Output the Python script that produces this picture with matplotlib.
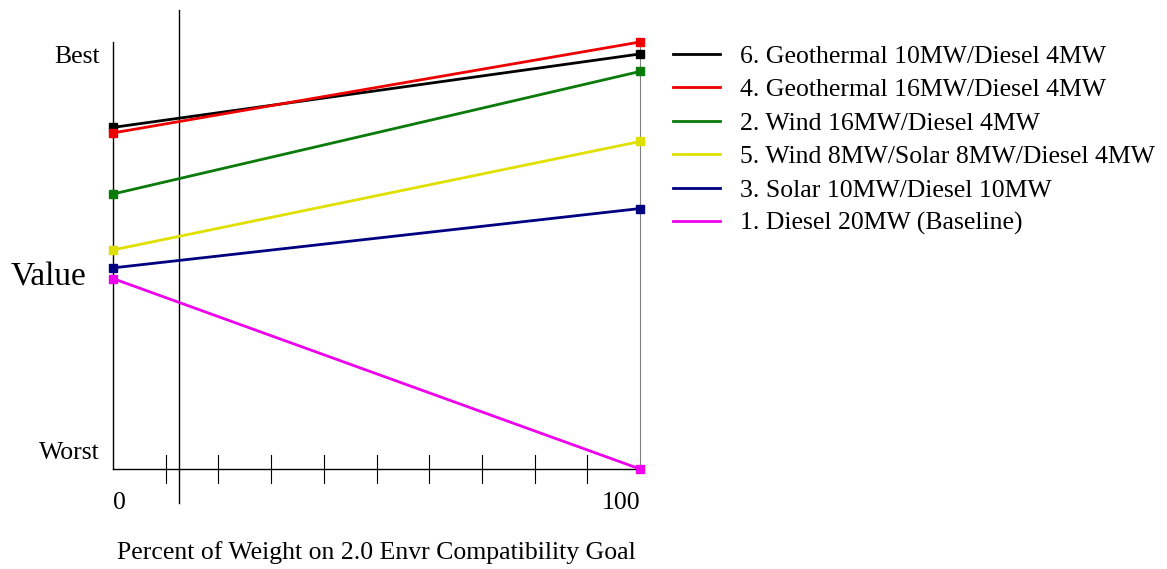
import numpy as np
import matplotlib
matplotlib.use("Agg")
import matplotlib.pyplot as plt

plt.rcParams['font.family'] = ['Liberation Serif', 'DejaVu Serif']

# weight on goal (percent) and value scores at both ends (0 = Worst, 100 = Best)
weights = [0, 100]
labels = ['6. Geothermal 10MW/Diesel 4MW',
          '4. Geothermal 16MW/Diesel 4MW',
          '2. Wind 16MW/Diesel 4MW',
          '5. Wind 8MW/Solar 8MW/Diesel 4MW',
          '3. Solar 10MW/Diesel 10MW',
          '1. Diesel 20MW (Baseline)']
geo10 = [80.0, 97.2]
geo16 = [78.7, 100.0]
wind16 = [64.4, 93.1]
wind_solar = [51.3, 76.7]
solar10 = [47.1, 61.0]
diesel20 = [44.6, 0.0]
colors = ['black', '#ee0000', '#0a7a0a', '#e0e000', '#000080', '#ee00ee']
current_weight = 12.5

series = [geo10, geo16, wind16, wind_solar, solar10, diesel20]

fig = plt.figure(figsize=(11.67, 5.69), dpi=100)
ax = fig.add_axes([113/1167, 1-469/569, 527/1167, 427/569])

for vals, lab, c in zip(series, labels, colors):
    ax.plot(weights, vals, color=c, lw=2, label=lab, marker='s', ms=6,
            clip_on=False, zorder=3)

ax.set_xlim(0, 100)
ax.set_ylim(0, 100)

ax.spines['top'].set_visible(False)
ax.spines['right'].set_color('gray')
ax.spines['left'].set_linewidth(1)
ax.spines['bottom'].set_linewidth(1)

# ticks crossing the x axis
ax.set_xticks([])
ax.set_yticks([])
for t in range(10, 100, 10):
    ax.plot([t, t], [-3.3, 3.3], color='black', lw=0.8, clip_on=False)

# current weight line
ax.plot([current_weight, current_weight], [-8, 107.5], color='black', lw=1,
        clip_on=False)

fs = 18.5
ax.text(0, -5.3, '0', ha='left', va='top', fontsize=fs)
ax.text(100, -5.3, '100', ha='right', va='top', fontsize=fs)
ax.text(-2.5, 96.5, 'Best', ha='right', va='center', fontsize=fs)
ax.text(-2.5, 3.7, 'Worst', ha='right', va='center', fontsize=fs)
ax.text(-12.2, 45.0, 'Value', ha='center', va='center', fontsize=24)
ax.text(50, -19.5, 'Percent of Weight on 2.0 Envr Compatibility Goal',
        ha='center', va='center', fontsize=fs)

ax.legend(loc='upper left', bbox_to_anchor=(1.043, 1.017), frameon=False,
          fontsize=fs, handlelength=1.83, handletextpad=0.78, labelspacing=0.405,
          borderaxespad=0)
for h in ax.get_legend().legend_handles:
    h.set_marker('')

fig.savefig('out.png', dpi=100)
